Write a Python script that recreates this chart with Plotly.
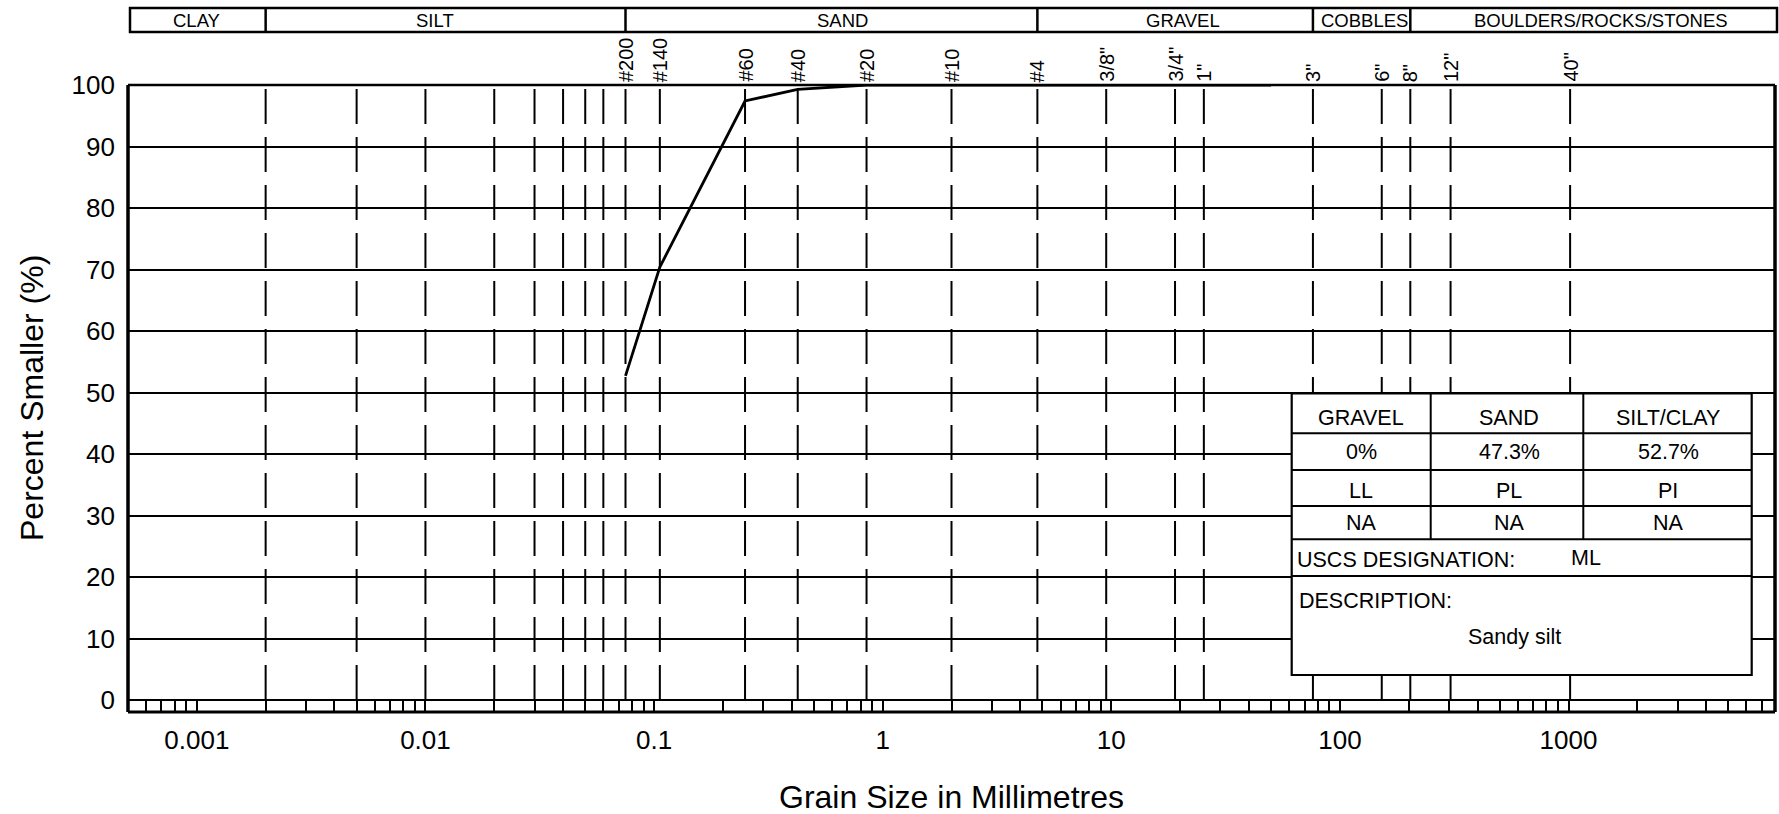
import numpy as np
import plotly.graph_objects as go

# ---- Grain size distribution (sieve results) ----
sieve_sizes_mm = [0.075, 0.106, 0.25, 0.425, 0.85, 2.0, 4.75, 9.5, 19.0, 25.4, 37.5, 50.0]
percent_passing = [52.7, 70.4, 97.4, 99.3, 100, 100, 100, 100, 100, 100, 100, 100]

# ---- Reference lines (mm) ----
sieve_line_sizes = [0.075, 0.106, 0.25, 0.425, 0.85, 2.0, 4.75, 9.5, 19.0, 25.4,
                    76.2, 152.4, 203.2, 304.8, 1016.0]
sieve_line_labels = ['#200', '#140', '#60', '#40', '#20', '#10', '#4', '3/8"', '3/4"', '1"',
                     '3"', '6"', '8"', '12"', '40"']
fine_line_sizes = [0.002, 0.005, 0.01, 0.02, 0.03, 0.04, 0.05, 0.06]

# ---- Soil class band ----
class_names = ['CLAY', 'SILT', 'SAND', 'GRAVEL', 'COBBLES', 'BOULDERS/ROCKS/STONES']
class_bounds_mm = [0.0005, 0.002, 0.075, 4.75, 76.2, 203.2, 8000]
class_label_mm = [0.001, 0.011, 0.67, 20.5, 128, 1380]

# ---- Axes ----
x_range_mm = [0.0005, 8000]
x_tick_vals = [0.001, 0.01, 0.1, 1, 10, 100, 1000]
x_tick_text = ['0.001', '0.01', '0.1', '1', '10', '100', '1000']
y_tick_vals = [0, 10, 20, 30, 40, 50, 60, 70, 80, 90, 100]

# ---- Summary table ----
fraction_names = ['GRAVEL', 'SAND', 'SILT/CLAY']
fraction_values = ['0%', '47.3%', '52.7%']
limit_names = ['LL', 'PL', 'PI']
limit_values = ['NA', 'NA', 'NA']
uscs_designation = 'ML'
soil_description = 'Sandy silt'

FONT = 'Arial, Liberation Sans, sans-serif'
W, H = 1779, 814
ML, MR, MT, MB = 128, 4, 85, 102
PW, PH = W - ML - MR, H - MT - MB


def px_x(p):
    """Pixel column -> paper x."""
    return (p - ML) / PW


def px_y(p):
    """Pixel row -> paper y."""
    return (H - MB - p) / PH


# Minor ticks along the bottom strip (1..9 per decade)
minor_vals = []
for d in range(-4, 4):
    for k in range(1, 10):
        v = k * 10.0 ** d
        if x_range_mm[0] < v < x_range_mm[1]:
            minor_vals.append(v)

fig = go.Figure()
fig.add_trace(go.Scatter(
    x=sieve_sizes_mm, y=percent_passing, mode='lines',
    line=dict(color='black', width=2.8), hoverinfo='x+y', showlegend=False,
))

shapes = []
# dashed reference lines
for s in fine_line_sizes + sieve_line_sizes:
    shapes.append(dict(type='line', xref='x', yref='y', x0=s, x1=s, y0=0, y1=100,
                       line=dict(color='black', width=2, dash='35px,13px'), layer='between'))

# soil class band above the plot
band_top, band_bot = px_y(8), px_y(32)
shapes.append(dict(type='rect', xref='paper', yref='paper', x0=px_x(130), x1=px_x(1777),
                   y0=band_bot, y1=band_top, line=dict(color='black', width=2.5)))
for b in class_bounds_mm[1:-1]:
    shapes.append(dict(type='line', xref='x', yref='paper', x0=b, x1=b, y0=band_bot, y1=band_top,
                       line=dict(color='black', width=2.5)))

# plot frame
shapes += [
    dict(type='line', xref='paper', yref='paper', x0=0, x1=0, y0=0, y1=1, line=dict(color='black', width=3.5), layer='above'),
    dict(type='line', xref='paper', yref='paper', x0=0, x1=1, y0=0, y1=0, line=dict(color='black', width=3), layer='above'),
    dict(type='line', xref='paper', yref='paper', x0=1, x1=1, y0=0, y1=1, line=dict(color='black', width=3.5), layer='above'),
    dict(type='line', xref='paper', yref='paper', x0=0, x1=1, y0=1, y1=1, line=dict(color='black', width=2.3), layer='above'),
]

# summary table
tx = [1291.7, 1430.7, 1583.3, 1751.7]
ty = [393.3, 433.3, 470, 506, 539.3, 576, 675]
shapes.append(dict(type='rect', xref='paper', yref='paper', x0=px_x(tx[0]), x1=px_x(tx[-1]),
                   y0=px_y(ty[-1]), y1=px_y(ty[0]), fillcolor='white',
                   line=dict(color='black', width=2.2), layer='above'))
for r in ty[1:-1]:
    shapes.append(dict(type='line', xref='paper', yref='paper', x0=px_x(tx[0]), x1=px_x(tx[-1]),
                       y0=px_y(r), y1=px_y(r), line=dict(color='black', width=2), layer='above'))
for c in tx[1:-1]:
    shapes.append(dict(type='line', xref='paper', yref='paper', x0=px_x(c), x1=px_x(c),
                       y0=px_y(ty[4]), y1=px_y(ty[0]), line=dict(color='black', width=2), layer='above'))

annotations = []
# class names
for name, xm in zip(class_names, class_label_mm):
    annotations.append(dict(x=np.log10(xm), y=(band_top + band_bot) / 2, xref='x', yref='paper',
                            text=name, showarrow=False, xanchor='center', yanchor='middle',
                            font=dict(family=FONT, size=18.5, color='black')))
# sieve labels
for lab, s in zip(sieve_line_labels, sieve_line_sizes):
    annotations.append(dict(x=np.log10(s), y=1, xref='x', yref='paper', text=lab, textangle=-90,
                            showarrow=False, xanchor='center', yanchor='bottom', yshift=1,
                            font=dict(family=FONT, size=20, color='black')))
# table text
col_c = [1361, 1509, 1668]
row_c = [418.3, 451.7, 491.0, 522.7]
tfont = dict(family=FONT, size=21.5, color='black')
for i in range(3):
    for r, items in zip(row_c, [fraction_names, fraction_values, limit_names, limit_values]):
        annotations.append(dict(x=px_x(col_c[i]), y=px_y(r), xref='paper', yref='paper',
                                text=items[i], showarrow=False, xanchor='center',
                                yanchor='middle', font=tfont))
annotations.append(dict(x=px_x(1295), y=px_y(560), xref='paper', yref='paper',
                        text='USCS DESIGNATION:', showarrow=False, xanchor='left',
                        yanchor='middle', font=tfont))
annotations.append(dict(x=px_x(1586), y=px_y(558), xref='paper', yref='paper',
                        text=uscs_designation, showarrow=False, xanchor='center',
                        yanchor='middle', font=tfont))
annotations.append(dict(x=px_x(1297), y=px_y(600.7), xref='paper', yref='paper',
                        text='DESCRIPTION:', showarrow=False, xanchor='left',
                        yanchor='middle', font=tfont))
annotations.append(dict(x=px_x(1514), y=px_y(636.7), xref='paper', yref='paper',
                        text=soil_description, showarrow=False, xanchor='center',
                        yanchor='middle', font=tfont))
# axis titles
annotations.append(dict(x=px_x(32), y=px_y(398), xref='paper', yref='paper',
                        text='Percent Smaller (%)', textangle=-90, showarrow=False,
                        xanchor='center', yanchor='middle',
                        font=dict(family=FONT, size=32, color='black')))
annotations.append(dict(x=0.5, y=px_y(797), xref='paper', yref='paper',
                        text='Grain Size in Millimetres', showarrow=False,
                        xanchor='center', yanchor='middle',
                        font=dict(family=FONT, size=32, color='black')))

fig.update_layout(
    width=W, height=H,
    margin=dict(l=ML, r=MR, t=MT, b=MB, pad=0),
    paper_bgcolor='white', plot_bgcolor='white',
    shapes=shapes, annotations=annotations, showlegend=False,
    xaxis=dict(
        type='log', range=[np.log10(x_range_mm[0]), np.log10(x_range_mm[1])],
        tickmode='array', tickvals=x_tick_vals, ticktext=x_tick_text,
        ticks='inside', ticklen=12, tickwidth=1.5, tickcolor='black',
        minor=dict(tickmode='array', tickvals=minor_vals, ticks='inside', ticklen=12,
                   tickwidth=1.5, tickcolor='black', showgrid=False),
        showgrid=False, zeroline=False, showline=False,
        tickfont=dict(family=FONT, size=26, color='black'), ticklabelstandoff=10,
    ),
    yaxis=dict(
        range=[-1.95, 100], tickmode='array', tickvals=y_tick_vals,
        showgrid=True, gridcolor='black', gridwidth=1.5, zeroline=False, showline=False,
        ticks='', tickfont=dict(family=FONT, size=26, color='black'), ticklabelstandoff=12,
    ),
)

fig.write_html('out.html')
